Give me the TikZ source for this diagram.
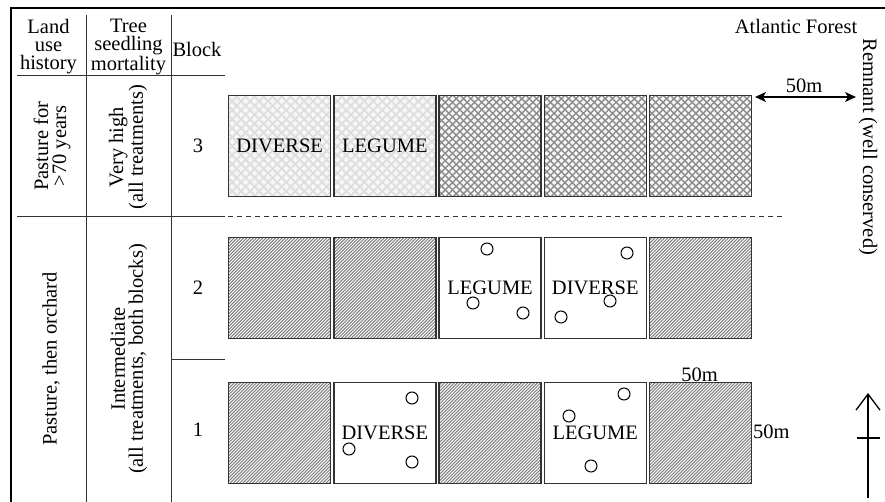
\documentclass[tikz,border=0pt]{standalone}
\usepackage{fontspec}
\setmainfont{Liberation Serif}
\usetikzlibrary{arrows.meta}
\begin{document}
\begin{tikzpicture}[x=1pt,y=-1pt,
  every node/.style={font=\fontsize{20.5}{18}\selectfont, inner sep=0pt},
  frame/.style={line width=1.4pt, black},
  rule/.style={line width=1pt, black!80},
  plotbox/.style={draw=black!80, line width=1.3pt, minimum width=102pt, minimum height=101pt, anchor=north west, inner sep=0pt},
  lightx/.style={plotbox, fill=black!3, path picture={
    \foreach \k in {-110,-101,...,110}{
      \draw[black!13, line width=1.8pt] ([xshift=\k pt]path picture bounding box.south west) -- ++(120pt,120pt);
      \draw[black!13, line width=1.8pt] ([xshift=\k pt]path picture bounding box.north west) -- ++(120pt,-120pt);
    }}},
  darkx/.style={plotbox, fill=black!3, path picture={
    \foreach \k in {-110,-102.7,...,110}{
      \draw[black!45, line width=1.4pt] ([xshift=\k pt]path picture bounding box.south west) -- ++(120pt,120pt);
      \draw[black!45, line width=1.4pt] ([xshift=\k pt]path picture bounding box.north west) -- ++(120pt,-120pt);
    }}},
  hatch/.style={plotbox, fill=white, path picture={
    \foreach \k in {-108,-104.8,...,108}{
      \draw[black!50, line width=1.0pt] ([xshift=\k pt]path picture bounding box.south west) -- ++(120pt,120pt);
    }}},
  openbox/.style={plotbox, fill=white},
  tree/.style={circle, draw=black, line width=1pt, minimum size=12pt, inner sep=0pt}
]
\useasboundingbox (0,0) rectangle (885,502);

% ---- frame and table rules
\coordinate (fTR) at (885,8);
\coordinate (fTL) at (11,8);
\coordinate (fBL) at (11,502);
\draw[frame] (fTR) -- (fTL) -- (fBL);
\coordinate (v1t) at (86,15);  \coordinate (v1b) at (86,502);
\coordinate (v2t) at (171,15); \coordinate (v2b) at (171,502);
\draw[rule] (v1t) -- (v1b);
\draw[rule] (v2t) -- (v2b);
\coordinate (h1a) at (17,76);  \coordinate (h1b) at (225,76);
\draw[rule] (h1a) -- (h1b);
\coordinate (h2a) at (17,217); \coordinate (h2b) at (225,217);
\draw[rule] (h2a) -- (h2b);
\coordinate (h3a) at (171,359); \coordinate (h3b) at (225,359);
\draw[rule] (h3a) -- (h3b);
\coordinate (d1) at (228,217); \coordinate (d2) at (782,217);
\draw[rule, dash pattern=on 5pt off 4pt] (d1) -- (d2);

% ---- header texts
\node[align=center] (hLand) at (48.5,47) {Land\\use\\history};
\node[align=center] (hTree) at (128.5,47) {Tree\\seedling\\mortality};
\node (hBlock) at (197,49) {Block};

% ---- row labels
\node[rotate=90, align=center] (lu3) at (52,146) {Pasture for\\>70 years};
\node[rotate=90, align=center] (tm3) at (128,147) {Very high\\(all treatments)};
\node (b3) at (198,146) {3};
\node[rotate=90] (lu12) at (51,359) {Pasture, then orchard};
\node[rotate=90, align=center] (tm12) at (129,359) {Intermediate\\(all treatments, both blocks)};
\node (b2) at (198,288) {2};
\node (b1) at (198,430) {1};

% ---- block 3
\node[lightx] (s31) at (228,95) {DIVERSE};
\node[lightx] (s32) at (333.2,95) {LEGUME};
\node[darkx]  (s33) at (438.4,95) {};
\node[darkx]  (s34) at (543.6,95) {};
\node[darkx]  (s35) at (648.8,95) {};

% ---- block 2
\node[hatch]   (s21) at (228,237) {};
\node[hatch]   (s22) at (333.2,237) {};
\node[openbox] (s23) at (438.4,237) {LEGUME};
\node[openbox] (s24) at (543.6,237) {DIVERSE};
\node[hatch]   (s25) at (648.8,237) {};

% ---- block 1
\node[hatch]   (s11) at (228,382) {};
\node[openbox] (s12) at (333.2,382) {DIVERSE};
\node[hatch]   (s13) at (438.4,382) {};
\node[openbox] (s14) at (543.6,382) {LEGUME};
\node[hatch]   (s15) at (648.8,382) {};

% ---- trees (circles)
\node[tree] (t231) at (487,249) {};
\node[tree] (t232) at (473,303) {};
\node[tree] (t233) at (523,313) {};
\node[tree] (t241) at (627,253) {};
\node[tree] (t242) at (610,301) {};
\node[tree] (t243) at (561,317) {};
\node[tree] (t121) at (412,398) {};
\node[tree] (t122) at (349,449) {};
\node[tree] (t123) at (412,462) {};
\node[tree] (t141) at (624,394) {};
\node[tree] (t142) at (569,416) {};
\node[tree] (t143) at (591,466) {};

% ---- scale labels
\node[anchor=base] (m50a) at (699.5,381) {50m};
\node[anchor=base west] (m50b) at (753,438) {50m};

% ---- forest and distance
\node[anchor=base] (forest) at (796,34) {Atlantic Forest};
\node[rotate=-90] (remnant) at (868,147) {Remnant (well conserved)};
\coordinate (arL) at (755,97);
\coordinate (arR) at (856,97);
\draw[line width=1.2pt, {Stealth[length=11pt,width=10pt,inset=3pt]}-{Stealth[length=11pt,width=10pt,inset=3pt]}] (arL) -- (arR);
\node[anchor=base] (m50c) at (804,93) {50m};

% ---- north arrow
\coordinate (nB) at (868,498);
\coordinate (nT) at (868,393);
\draw[line width=1.3pt, -{Straight Barb[length=16pt,width=24pt,line width=1.3pt]}] (nB) -- (nT);
\coordinate (cbL) at (857,438);
\coordinate (cbR) at (880,438);
\draw[line width=1.3pt] (cbL) -- (cbR);
\end{tikzpicture}
\end{document}
